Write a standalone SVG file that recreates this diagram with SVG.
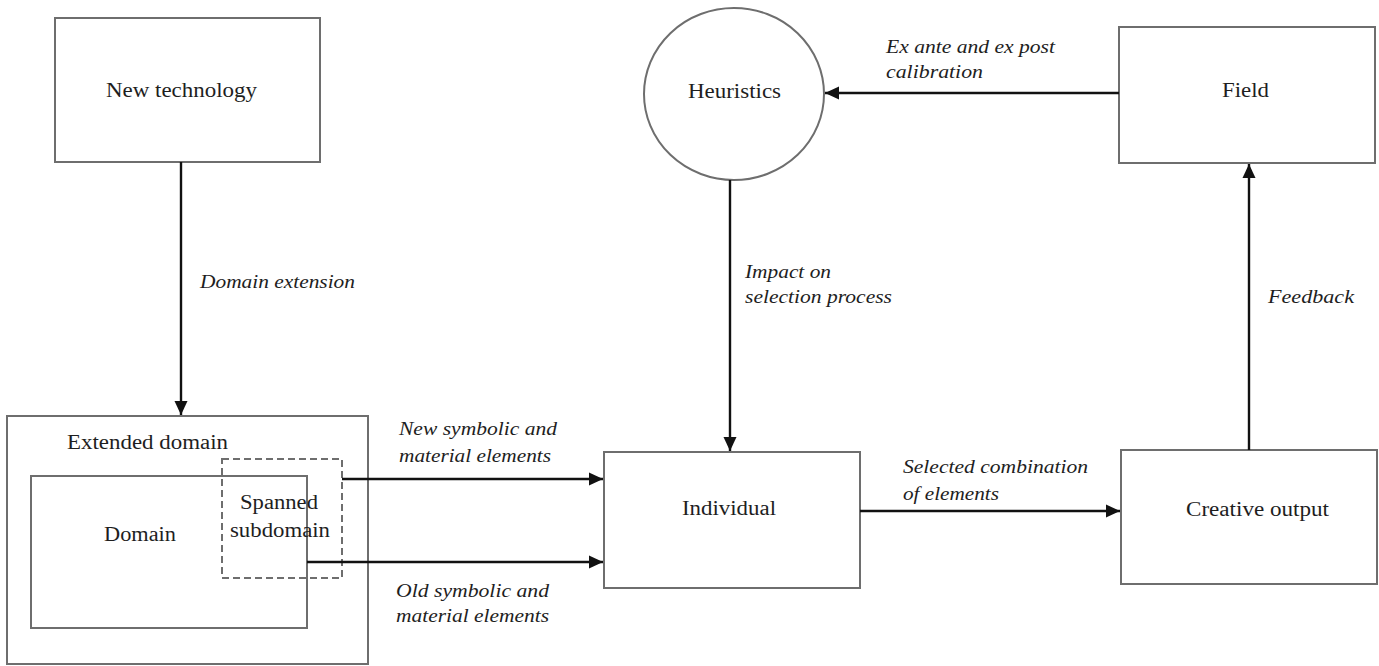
<svg xmlns="http://www.w3.org/2000/svg" width="1379" height="666" viewBox="0 0 1379 666">
<style>
.box{fill:#fff;stroke:#6e6e6e;stroke-width:2}
.dash{fill:none;stroke:#6e6e6e;stroke-width:2;stroke-dasharray:7 4}
.lbl{font-family:"Liberation Serif","Times New Roman",serif;font-size:20px;fill:#1e1e1e}
.it{font-family:"Liberation Serif","Times New Roman",serif;font-size:19px;font-style:italic;fill:#1e1e1e}
.conn{fill:none;stroke:#111;stroke-width:2.4}
</style>
<defs>
<marker id="ah" markerUnits="userSpaceOnUse" markerWidth="15" markerHeight="14" refX="14" refY="7" orient="auto">
<path d="M0,0.5 L14,7 L0,13.5 Z" fill="#111"/>
</marker>
</defs>
<rect width="1379" height="666" fill="#fff"/>
<g id="extended-domain">
<rect class="box" x="7" y="416" width="361" height="248"/>
<text class="lbl" x="67" y="449" textLength="161" lengthAdjust="spacingAndGlyphs">Extended domain</text>
</g>
<g id="domain">
<rect class="box" x="31" y="476" width="276" height="152"/>
<text class="lbl" x="104" y="541" textLength="72" lengthAdjust="spacingAndGlyphs">Domain</text>
</g>
<g id="spanned-subdomain">
<rect class="dash" x="222" y="459" width="120" height="119"/>
<text class="lbl" x="240" y="509" textLength="78" lengthAdjust="spacingAndGlyphs">Spanned</text>
<text class="lbl" x="230" y="537" textLength="100" lengthAdjust="spacingAndGlyphs">subdomain</text>
</g>
<g id="new-technology">
<rect class="box" x="55" y="18" width="265" height="144"/>
<text class="lbl" x="106" y="97" textLength="151" lengthAdjust="spacingAndGlyphs">New technology</text>
</g>
<g id="heuristics">
<ellipse class="box" cx="734" cy="94" rx="90" ry="86"/>
<text class="lbl" x="688" y="98" textLength="93" lengthAdjust="spacingAndGlyphs">Heuristics</text>
</g>
<g id="field">
<rect class="box" x="1119" y="27" width="256" height="136"/>
<text class="lbl" x="1222" y="97" textLength="47" lengthAdjust="spacingAndGlyphs">Field</text>
</g>
<g id="individual">
<rect class="box" x="604" y="452" width="256" height="136"/>
<text class="lbl" x="682" y="515" textLength="94" lengthAdjust="spacingAndGlyphs">Individual</text>
</g>
<g id="creative-output">
<rect class="box" x="1121" y="450" width="256" height="134"/>
<text class="lbl" x="1186" y="516" textLength="143" lengthAdjust="spacingAndGlyphs">Creative output</text>
</g>
<g id="connectors">
<line class="conn" x1="181" y1="162" x2="181" y2="415" marker-end="url(#ah)"/>
<line class="conn" x1="342" y1="479" x2="603" y2="479" marker-end="url(#ah)"/>
<line class="conn" x1="307" y1="562" x2="603" y2="562" marker-end="url(#ah)"/>
<line class="conn" x1="860" y1="511" x2="1120" y2="511" marker-end="url(#ah)"/>
<line class="conn" x1="1249" y1="450" x2="1249" y2="164" marker-end="url(#ah)"/>
<line class="conn" x1="1119" y1="93" x2="825" y2="93" marker-end="url(#ah)"/>
<line class="conn" x1="730" y1="180" x2="730" y2="451" marker-end="url(#ah)"/>
</g>
<g id="labels">
<text class="it" x="200" y="288" textLength="155" lengthAdjust="spacingAndGlyphs">Domain extension</text>
<text class="it" x="399" y="435" textLength="158" lengthAdjust="spacingAndGlyphs">New symbolic and</text>
<text class="it" x="399" y="462" textLength="152" lengthAdjust="spacingAndGlyphs">material elements</text>
<text class="it" x="396" y="597" textLength="153" lengthAdjust="spacingAndGlyphs">Old symbolic and</text>
<text class="it" x="396" y="622" textLength="153" lengthAdjust="spacingAndGlyphs">material elements</text>
<text class="it" x="903" y="473" textLength="185" lengthAdjust="spacingAndGlyphs">Selected combination</text>
<text class="it" x="903" y="500" textLength="96" lengthAdjust="spacingAndGlyphs">of elements</text>
<text class="it" x="886" y="53" textLength="169" lengthAdjust="spacingAndGlyphs">Ex ante and ex post</text>
<text class="it" x="886" y="78" textLength="97" lengthAdjust="spacingAndGlyphs">calibration</text>
<text class="it" x="745" y="278" textLength="86" lengthAdjust="spacingAndGlyphs">Impact on</text>
<text class="it" x="745" y="303" textLength="147" lengthAdjust="spacingAndGlyphs">selection process</text>
<text class="it" x="1268" y="303" textLength="86" lengthAdjust="spacingAndGlyphs">Feedback</text>
</g>
</svg>
